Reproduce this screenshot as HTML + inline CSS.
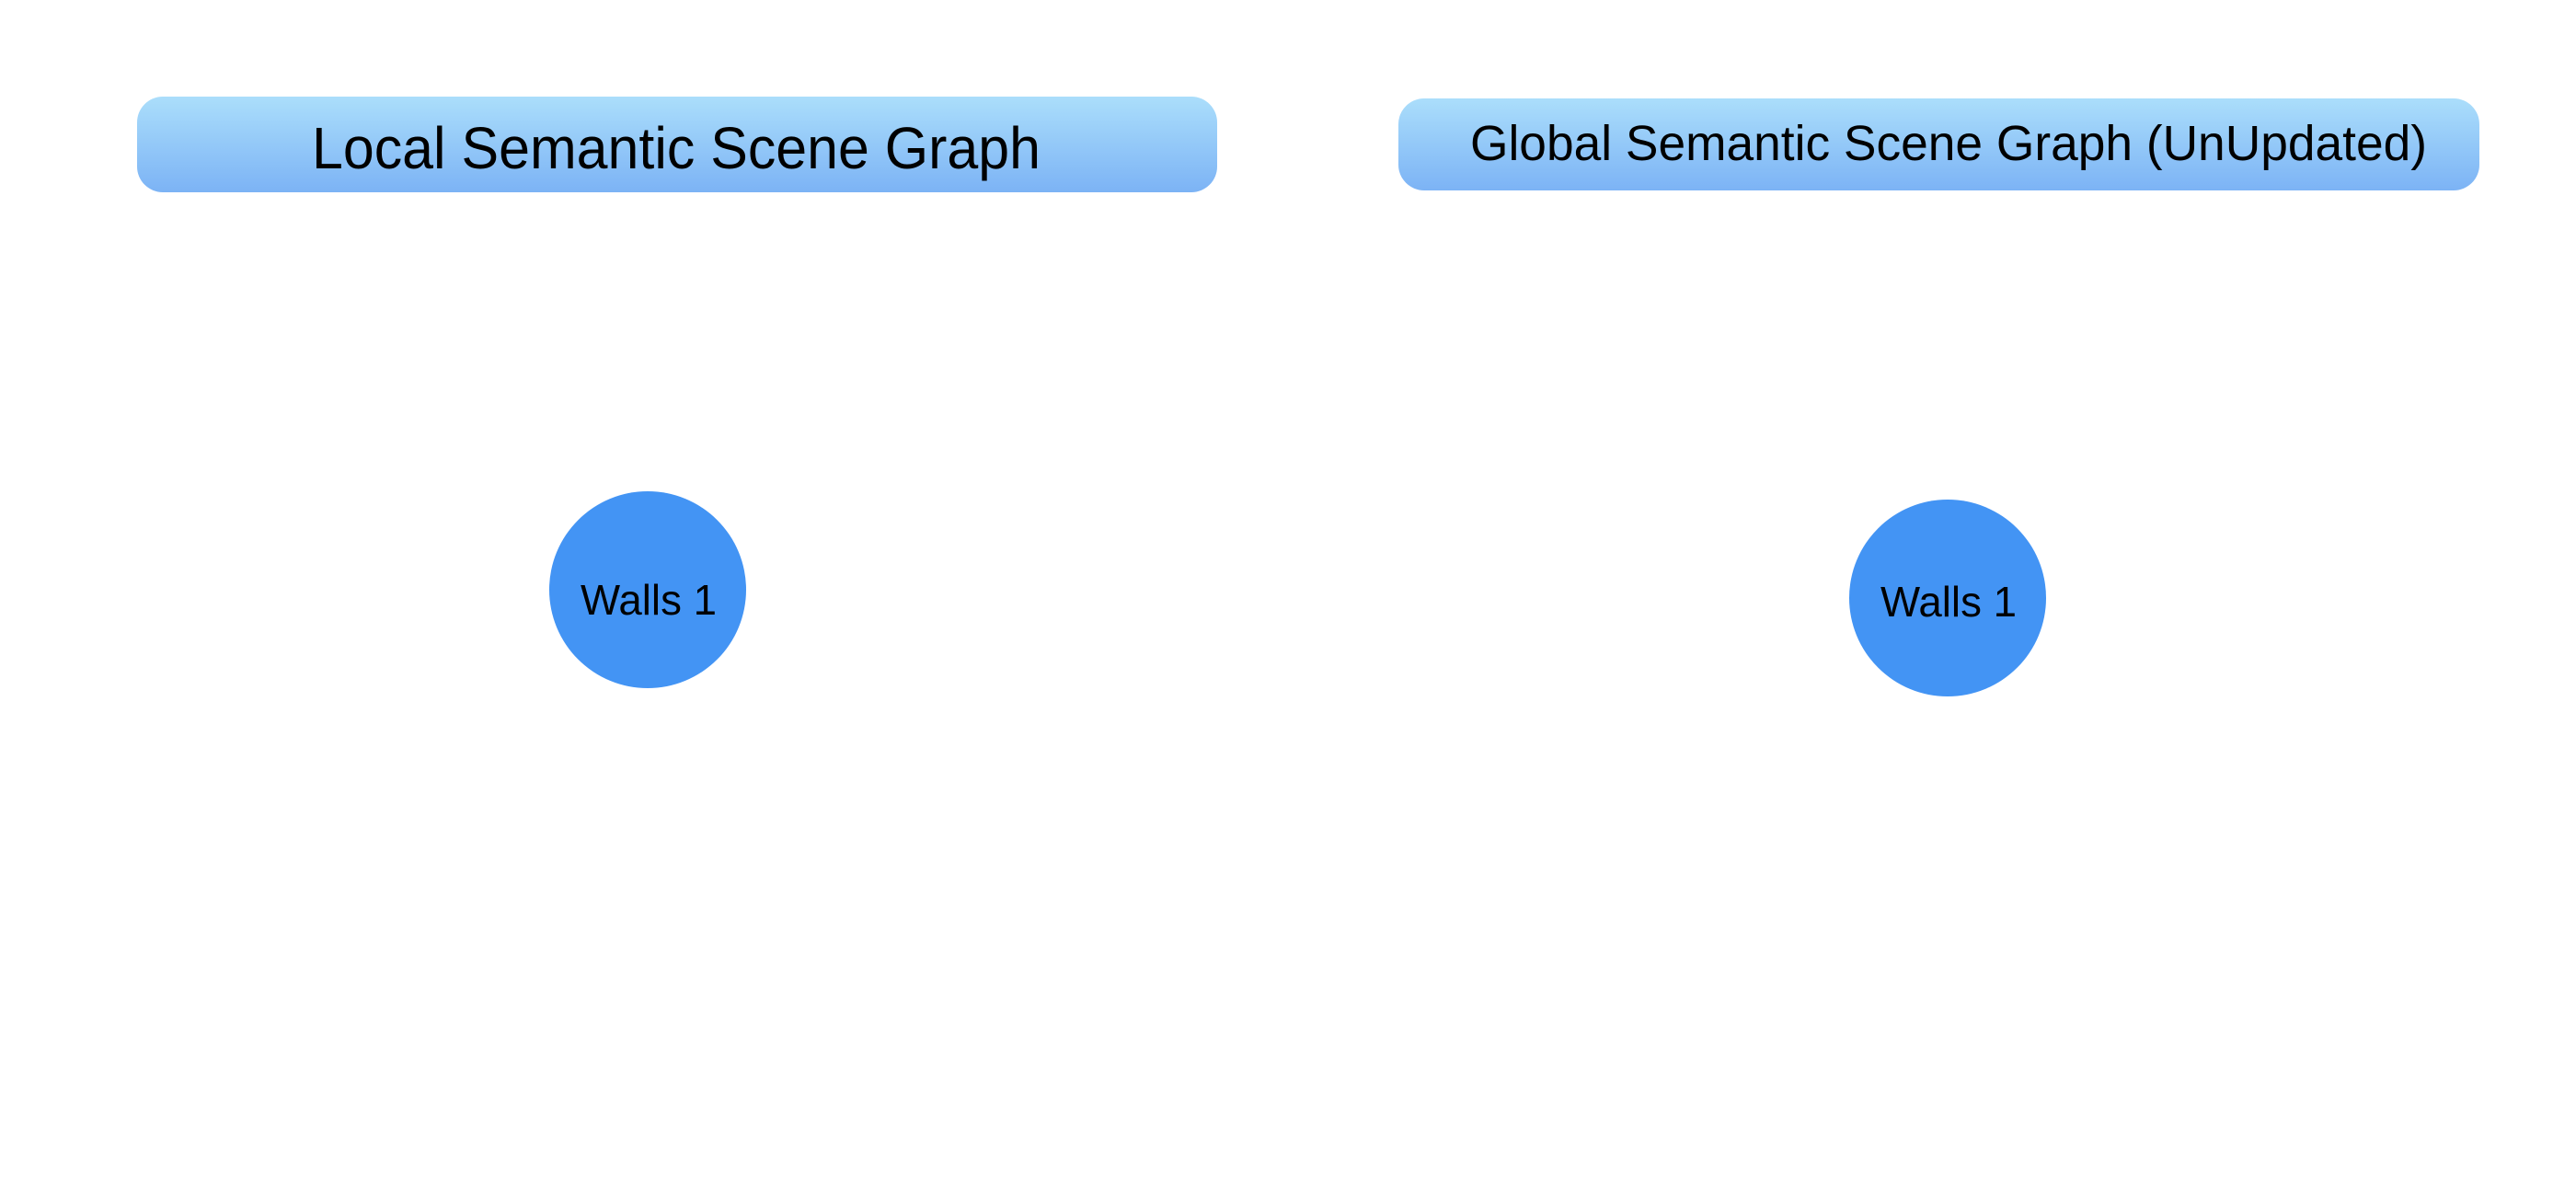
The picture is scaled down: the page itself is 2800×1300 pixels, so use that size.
<!DOCTYPE html>
<html><head><meta charset="utf-8"><style>
html,body{margin:0;padding:0;background:#fff;}
svg{display:block;}
</style></head><body>
<svg width="2800" height="1300" viewBox="0 0 2800 1300" xmlns="http://www.w3.org/2000/svg">
<defs>
<linearGradient id="g" x1="0" y1="0" x2="0" y2="1">
<stop offset="0" stop-color="#abdefb"/>
<stop offset="1" stop-color="#7cb3f5"/>
</linearGradient>
</defs>
<rect width="2800" height="1300" fill="#fff"/>
<rect x="149" y="105" width="1174" height="104" rx="28" fill="url(#g)"/>
<rect x="1520" y="107" width="1175" height="100" rx="28" fill="url(#g)"/>
<text x="339" y="183" font-family="'Liberation Sans',sans-serif" font-size="64" textLength="792" lengthAdjust="spacingAndGlyphs" fill="#000">Local Semantic Scene Graph</text>
<text x="1598" y="174" font-family="'Liberation Sans',sans-serif" font-size="54" textLength="1040" lengthAdjust="spacingAndGlyphs" fill="#000">Global Semantic Scene Graph (UnUpdated)</text>
<circle cx="704" cy="641" r="107" fill="#4394f4"/>
<circle cx="2117" cy="650" r="107" fill="#4394f4"/>
<text x="631" y="668" font-family="'Liberation Sans',sans-serif" font-size="46" textLength="148" lengthAdjust="spacingAndGlyphs" fill="#000">Walls 1</text>
<text x="2044" y="670" font-family="'Liberation Sans',sans-serif" font-size="46" textLength="148" lengthAdjust="spacingAndGlyphs" fill="#000">Walls 1</text>
</svg>
</body></html>
